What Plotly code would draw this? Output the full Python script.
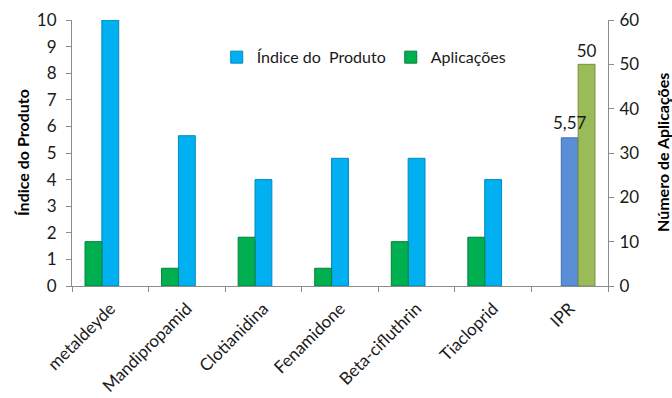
import plotly.graph_objects as go

# Data
produtos = ["metaldeyde", "Mandipropamid", "Clotianidina", "Fenamidone",
            "Beta-cifluthrin", "Tiacloprid", "IPR"]
indice = [10, 5.65, 4.0, 4.8, 4.8, 4.0, 5.57]
aplicacoes = [10, 4, 11, 4, 10, 11, 50]

# Colours (the IPR reference pair uses a different palette)
cor_indice = ["#00B0F0"] * 6 + ["#5A8FD8"]
borda_indice = ["#0088C0"] * 6 + ["#3F6FB0"]
cor_aplic = ["#00B050"] * 6 + ["#9BBB59"]
borda_aplic = ["#00803A"] * 6 + ["#768F40"]

# Bar placement within each category (category units)
off_indice = [-0.11] * 7
off_aplic = [-0.33] * 6 + [0.11]
largura = 0.22

fonte = "Lato, 'DejaVu Sans', sans-serif"
texto = "#1a1a1a"
eixo = "#8c8c8c"

txt_aplic = [""] * 6 + [str(aplicacoes[-1])]

fig = go.Figure()
fig.add_trace(go.Bar(
    x=produtos, y=indice, name="Índice do  Produto",
    marker=dict(color=cor_indice, line=dict(color=borda_indice, width=1)),
    offset=off_indice, width=largura, yaxis="y",
))
fig.add_trace(go.Bar(
    x=produtos, y=aplicacoes, name="Aplicações",
    marker=dict(color=cor_aplic, line=dict(color=borda_aplic, width=1)),
    offset=off_aplic, width=largura, yaxis="y2",
    text=txt_aplic, textposition="outside", cliponaxis=False,
    constraintext="none",
    textfont=dict(family=fonte, size=17, color=texto),
))

fig.update_layout(
    width=672, height=398,
    margin=dict(l=72, r=64, t=20, b=112),
    paper_bgcolor="white", plot_bgcolor="white",
    barmode="overlay",
    font=dict(family=fonte, size=17, color=texto),
    showlegend=True,
    legend=dict(orientation="h", x=0.27, y=0.86, xanchor="left", yanchor="middle",
                font=dict(family=fonte, size=16, color=texto),
                bgcolor="rgba(0,0,0,0)", itemwidth=30),
    xaxis=dict(
        type="category", showline=True, linecolor=eixo, linewidth=1,
        ticks="outside", tickson="boundaries", ticklen=5, tickcolor=eixo,
        tickangle=-45, tickfont=dict(family=fonte, size=17, color=texto),
        ticklabelstandoff=5,
        showgrid=False, zeroline=False, automargin=False,
    ),
    yaxis=dict(
        range=[0, 10], dtick=1, showline=True, linecolor=eixo, linewidth=1,
        ticks="outside", ticklen=5, tickcolor=eixo, showgrid=False, zeroline=False,
        tickfont=dict(family=fonte, size=17, color=texto), ticklabelstandoff=6,
        automargin=False,
    ),
    yaxis2=dict(
        range=[0, 60], dtick=10, overlaying="y", side="right",
        showline=True, linecolor=eixo, linewidth=1,
        ticks="outside", ticklen=5, tickcolor=eixo, showgrid=False, zeroline=False,
        tickfont=dict(family=fonte, size=17, color=texto), ticklabelstandoff=2,
        automargin=False,
    ),
    annotations=[
        dict(text="<b>Índice do Produto</b>", textangle=-90, x=0, y=0.5,
             xref="paper", yref="paper", xanchor="center", yanchor="middle",
             xshift=-50, showarrow=False,
             font=dict(family=fonte, size=16, color="#000000")),
        dict(text="<b>Número de Aplicações</b>", textangle=-90, x=1, y=0.5,
             xref="paper", yref="paper", xanchor="center", yanchor="middle",
             xshift=54, showarrow=False,
             font=dict(family=fonte, size=16, color="#000000")),
        # value label of the IPR index bar
        dict(text=f"{indice[-1]:.2f}".replace(".", ","), x=produtos[-1], y=indice[-1],
             xref="x", yref="y", xanchor="center", yanchor="bottom",
             yshift=3, showarrow=False,
             font=dict(family=fonte, size=17, color=texto)),
    ],
)

fig.write_html("out.html")
